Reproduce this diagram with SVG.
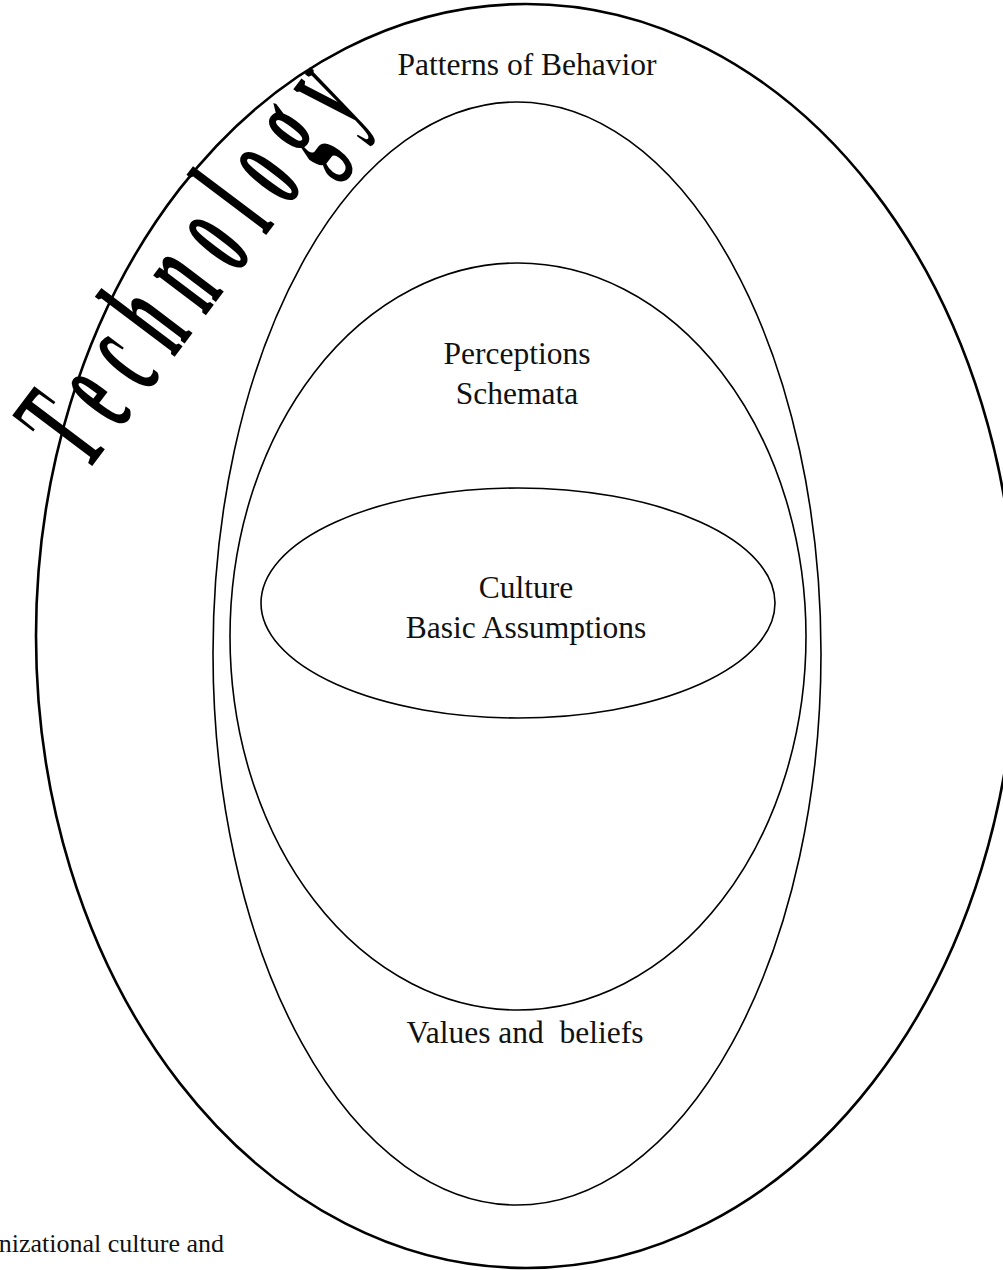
<svg xmlns="http://www.w3.org/2000/svg" width="1003" height="1270" viewBox="0 0 1003 1270">
<style>
.ring{fill:none;stroke:#000;stroke-width:1.6}
.outer{fill:none;stroke:#000;stroke-width:2.6}
.lbl{font-family:"Liberation Serif","Times New Roman",serif;font-size:31.5px;fill:#111;text-anchor:middle}
.tech{font-family:"Liberation Serif","Times New Roman",serif;font-size:144px;font-weight:bold;fill:#000;letter-spacing:49.8px}
</style>
<rect width="1003" height="1270" fill="#fff"/>
<g id="outer">
<ellipse class="outer" cx="526" cy="636" rx="490" ry="632"/>
<text class="lbl" x="527" y="75">Patterns of Behavior</text>
</g>
<g id="values">
<ellipse class="ring" cx="517" cy="653.5" rx="304" ry="551.5"/>
<text class="lbl" x="525" y="1043" xml:space="preserve">Values and  beliefs</text>
</g>
<g id="perceptions">
<ellipse class="ring" cx="518" cy="636.5" rx="288" ry="373.5"/>
<text class="lbl" x="517" y="364">Perceptions</text>
<text class="lbl" x="517" y="404">Schemata</text>
</g>
<g id="culture">
<ellipse class="ring" cx="518" cy="603" rx="257" ry="115"/>
<text class="lbl" x="526" y="598">Culture</text>
<text class="lbl" x="526" y="638">Basic Assumptions</text>
</g>
<g id="technology">
<text class="tech" transform="translate(87,473) rotate(-53) scale(0.4,1)">Technology</text>
</g>
<g id="caption">
<text x="224" y="1252" font-family="Liberation Serif, serif" font-size="26" fill="#111" text-anchor="end">nizational culture and</text>
</g>
<g id="connectors"></g>
</svg>
